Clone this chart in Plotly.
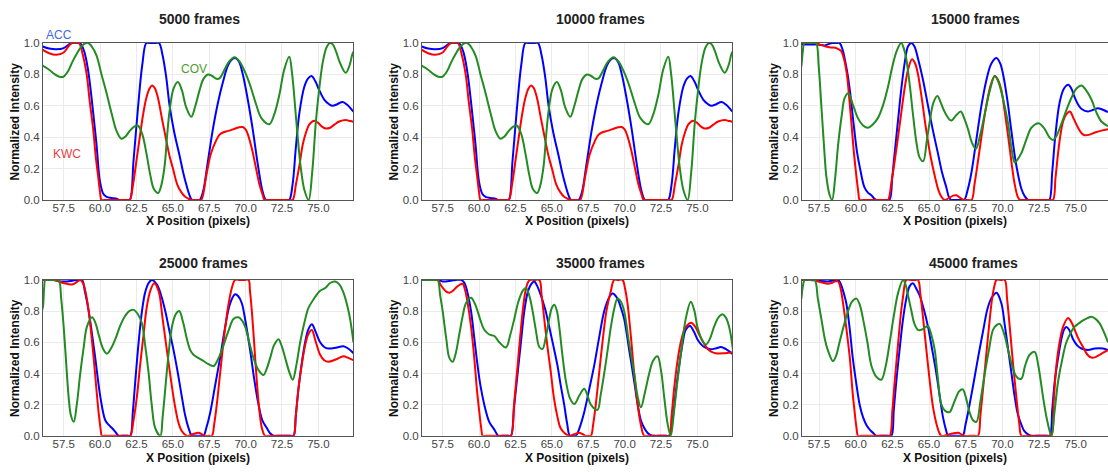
import plotly.graph_objects as go

# ---------------- data ----------------
FRAMES = [5000, 10000, 15000, 25000, 35000, 45000]
X_TICK_STEP = 2.5
Y_TICK_STEP = 0.2

ACC_5000 = [(56.0,0.98),(56.5,0.965),(57.0,0.96),(57.5,0.968),(57.93,0.995),(58.15,1.0),(58.4,1.0),(58.62,1.0),(58.9,0.95),(59.19,0.82),(59.5,0.58),(59.76,0.35),(59.99,0.12),(60.22,0.04),(60.45,0.02),(60.8,0.013),(61.13,0.008),(61.3,0.0),(61.5,0.0),(61.85,0.0),(62.04,0.0),(62.3,0.25),(62.6,0.58),(62.9,0.86),(63.18,1.0),(63.4,1.0),(63.8,1.0),(64.05,1.0),(64.3,0.92),(64.55,0.78),(64.78,0.6),(65.1,0.43),(65.47,0.28),(65.7,0.18),(65.92,0.1),(66.15,0.03),(66.31,0.0),(66.5,0.0),(66.65,0.0),(66.84,0.0),(67.07,0.05),(67.4,0.24),(67.75,0.45),(68.1,0.62),(68.44,0.75),(68.8,0.86),(69.12,0.9),(69.3,0.905),(69.55,0.88),(69.81,0.8),(70.15,0.64),(70.49,0.45),(70.85,0.22),(71.18,0.05),(71.4,0.0),(71.6,0.0),(72.8,0.0),(73.0,0.0),(73.23,0.1),(73.45,0.33),(73.69,0.55),(74.03,0.72),(74.3,0.775),(74.53,0.79),(74.8,0.755),(75.06,0.7),(75.4,0.64),(75.74,0.61),(75.97,0.6),(76.3,0.61),(76.66,0.625),(77.0,0.605),(77.34,0.57),(77.45,0.56)]
KWC_5000 = [(56.0,0.96),(56.5,0.935),(57.0,0.925),(57.5,0.94),(57.8,0.975),(58.05,1.0),(58.3,1.0),(58.55,1.0),(58.8,0.93),(59.08,0.8),(59.3,0.62),(59.53,0.45),(59.7,0.28),(59.87,0.15),(60.0,0.05),(60.1,0.0),(60.3,0.0),(61.8,0.0),(62.04,0.0),(62.27,0.1),(62.5,0.25),(62.73,0.4),(62.95,0.54),(63.18,0.65),(63.4,0.71),(63.57,0.73),(63.75,0.715),(63.98,0.65),(64.25,0.52),(64.55,0.38),(64.8,0.27),(65.01,0.2),(65.3,0.1),(65.58,0.05),(65.85,0.02),(66.15,0.005),(66.3,0.0),(66.5,0.0),(66.75,0.0),(66.95,0.0),(67.29,0.15),(67.6,0.29),(67.98,0.38),(68.2,0.415),(68.44,0.43),(68.8,0.44),(69.12,0.45),(69.5,0.462),(69.81,0.465),(70.0,0.45),(70.15,0.42),(70.45,0.32),(70.72,0.2),(70.95,0.1),(71.18,0.03),(71.3,0.0),(71.5,0.0),(73.0,0.0),(73.23,0.0),(73.46,0.1),(73.7,0.22),(73.92,0.35),(74.15,0.43),(74.37,0.48),(74.71,0.505),(75.0,0.49),(75.25,0.467),(75.51,0.455),(75.8,0.46),(76.1,0.48),(76.43,0.5),(76.88,0.51),(77.1,0.505),(77.34,0.5),(77.45,0.497)]
COV_5000 = [(56.0,0.86),(56.08,0.855),(56.5,0.83),(56.9,0.8),(57.2,0.785),(57.48,0.785),(57.8,0.82),(58.1,0.88),(58.39,0.93),(58.7,0.975),(58.95,0.997),(59.19,1.0),(59.45,0.975),(59.76,0.92),(60.1,0.8),(60.45,0.68),(60.8,0.55),(61.13,0.44),(61.47,0.39),(61.75,0.405),(62.04,0.44),(62.35,0.468),(62.61,0.473),(62.9,0.42),(63.18,0.3),(63.45,0.16),(63.7,0.07),(64.0,0.045),(64.2,0.09),(64.44,0.22),(64.6,0.4),(64.78,0.57),(65.05,0.71),(65.35,0.752),(65.62,0.7),(65.92,0.59),(66.27,0.53),(66.55,0.6),(66.84,0.7),(67.1,0.77),(67.41,0.8),(67.7,0.79),(68.0,0.772),(68.21,0.775),(68.5,0.82),(68.85,0.88),(69.24,0.91),(69.6,0.88),(70.03,0.8),(70.35,0.72),(70.72,0.61),(71.1,0.52),(71.63,0.483),(71.95,0.54),(72.32,0.67),(72.65,0.83),(73.0,0.913),(73.2,0.8),(73.46,0.53),(73.65,0.33),(73.8,0.2),(74.05,0.06),(74.33,0.0),(74.58,0.18),(74.83,0.5),(75.05,0.7),(75.29,0.87),(75.55,0.97),(75.79,1.0),(76.0,0.99),(76.2,0.95),(76.5,0.87),(76.88,0.81),(77.15,0.86),(77.34,0.93),(77.45,0.95)]

ACC_10000 = [(56.0,0.98),(56.5,0.965),(57.0,0.96),(57.5,0.968),(57.93,0.995),(58.15,1.0),(58.4,1.0),(58.62,1.0),(58.9,0.95),(59.19,0.82),(59.5,0.58),(59.76,0.35),(59.99,0.12),(60.22,0.04),(60.45,0.02),(60.8,0.013),(61.13,0.008),(61.3,0.0),(61.5,0.0),(61.85,0.0),(62.04,0.0),(62.3,0.25),(62.6,0.58),(62.9,0.86),(63.18,1.0),(63.4,1.0),(63.8,1.0),(64.05,1.0),(64.3,0.92),(64.55,0.78),(64.78,0.6),(65.1,0.43),(65.47,0.28),(65.7,0.18),(65.92,0.1),(66.15,0.03),(66.31,0.0),(66.5,0.0),(66.65,0.0),(66.84,0.0),(67.07,0.05),(67.4,0.24),(67.75,0.45),(68.1,0.62),(68.44,0.75),(68.8,0.86),(69.12,0.9),(69.3,0.905),(69.55,0.88),(69.81,0.8),(70.15,0.64),(70.49,0.45),(70.85,0.22),(71.18,0.05),(71.4,0.0),(71.6,0.0),(72.8,0.0),(73.0,0.0),(73.23,0.1),(73.45,0.33),(73.69,0.55),(74.03,0.72),(74.3,0.775),(74.53,0.79),(74.8,0.755),(75.06,0.7),(75.4,0.64),(75.74,0.61),(75.97,0.6),(76.3,0.61),(76.66,0.625),(77.0,0.605),(77.34,0.57),(77.45,0.56)]
KWC_10000 = [(56.0,0.96),(56.5,0.935),(57.0,0.925),(57.5,0.94),(57.8,0.975),(58.05,1.0),(58.3,1.0),(58.55,1.0),(58.8,0.93),(59.08,0.8),(59.3,0.62),(59.53,0.45),(59.7,0.28),(59.87,0.15),(60.0,0.05),(60.1,0.0),(60.3,0.0),(61.8,0.0),(62.04,0.0),(62.27,0.1),(62.5,0.25),(62.73,0.4),(62.95,0.54),(63.18,0.65),(63.4,0.71),(63.57,0.73),(63.75,0.715),(63.98,0.65),(64.25,0.52),(64.55,0.38),(64.8,0.27),(65.01,0.2),(65.3,0.1),(65.58,0.05),(65.85,0.02),(66.15,0.005),(66.3,0.0),(66.5,0.0),(66.75,0.0),(66.95,0.0),(67.29,0.15),(67.6,0.29),(67.98,0.38),(68.2,0.415),(68.44,0.43),(68.8,0.44),(69.12,0.45),(69.5,0.462),(69.81,0.465),(70.0,0.45),(70.15,0.42),(70.45,0.32),(70.72,0.2),(70.95,0.1),(71.18,0.03),(71.3,0.0),(71.5,0.0),(73.0,0.0),(73.23,0.0),(73.46,0.1),(73.7,0.22),(73.92,0.35),(74.15,0.43),(74.37,0.48),(74.71,0.505),(75.0,0.49),(75.25,0.467),(75.51,0.455),(75.8,0.46),(76.1,0.48),(76.43,0.5),(76.88,0.51),(77.1,0.505),(77.34,0.5),(77.45,0.497)]
COV_10000 = [(56.0,0.86),(56.08,0.855),(56.5,0.83),(56.9,0.8),(57.2,0.785),(57.48,0.785),(57.8,0.82),(58.1,0.88),(58.39,0.93),(58.7,0.975),(58.95,0.997),(59.19,1.0),(59.45,0.975),(59.76,0.92),(60.1,0.8),(60.45,0.68),(60.8,0.55),(61.13,0.44),(61.47,0.39),(61.75,0.405),(62.04,0.44),(62.35,0.468),(62.61,0.473),(62.9,0.42),(63.18,0.3),(63.45,0.16),(63.7,0.07),(64.0,0.045),(64.2,0.09),(64.44,0.22),(64.6,0.4),(64.78,0.57),(65.05,0.71),(65.35,0.752),(65.62,0.7),(65.92,0.59),(66.27,0.53),(66.55,0.6),(66.84,0.7),(67.1,0.77),(67.41,0.8),(67.7,0.79),(68.0,0.772),(68.21,0.775),(68.5,0.82),(68.85,0.88),(69.24,0.91),(69.6,0.88),(70.03,0.8),(70.35,0.72),(70.72,0.61),(71.1,0.52),(71.63,0.483),(71.95,0.54),(72.32,0.67),(72.65,0.83),(73.0,0.913),(73.2,0.8),(73.46,0.53),(73.65,0.33),(73.8,0.2),(74.05,0.06),(74.33,0.0),(74.58,0.18),(74.83,0.5),(75.05,0.7),(75.29,0.87),(75.55,0.97),(75.79,1.0),(76.0,0.99),(76.2,0.95),(76.5,0.87),(76.88,0.81),(77.15,0.86),(77.34,0.93),(77.45,0.95)]

ACC_15000 = [(56.3,0.99),(56.8,0.99),(57.4,0.99),(57.9,0.985),(58.2,0.995),(58.4,1.0),(58.65,1.0),(58.9,1.0),(59.1,0.96),(59.25,0.9),(59.45,0.8),(59.6,0.7),(59.9,0.45),(60.1,0.3),(60.3,0.2),(60.6,0.08),(60.85,0.045),(61.07,0.03),(61.25,0.01),(61.4,0.0),(61.6,0.0),(62.1,0.0),(62.3,0.0),(62.5,0.15),(62.66,0.3),(62.9,0.52),(63.1,0.7),(63.35,0.88),(63.57,0.98),(63.8,1.0),(64.0,0.98),(64.25,0.9),(64.6,0.76),(64.93,0.6),(65.25,0.45),(65.6,0.3),(65.9,0.17),(66.18,0.08),(66.35,0.02),(66.5,0.0),(66.7,0.0),(67.2,0.0),(67.4,0.0),(67.65,0.07),(67.9,0.18),(68.25,0.4),(68.57,0.6),(68.9,0.76),(69.25,0.87),(69.6,0.905),(69.85,0.87),(70.05,0.8),(70.35,0.63),(70.6,0.45),(70.95,0.22),(71.3,0.07),(71.55,0.02),(71.75,0.0),(72.0,0.0),(73.0,0.0),(73.2,0.0),(73.4,0.18),(73.6,0.4),(73.9,0.62),(74.2,0.71),(74.5,0.734),(74.7,0.71),(74.9,0.66),(75.15,0.61),(75.4,0.58),(75.84,0.564),(76.2,0.575),(76.5,0.585),(76.85,0.575),(77.2,0.56)]
KWC_15000 = [(56.3,1.0),(56.8,1.0),(57.2,1.0),(57.55,0.99),(57.9,0.98),(58.3,0.972),(58.6,0.97),(58.85,0.96),(59.0,0.95),(59.2,0.9),(59.4,0.8),(59.55,0.66),(59.7,0.5),(59.88,0.3),(60.05,0.15),(60.18,0.05),(60.27,0.0),(60.5,0.0),(62.0,0.0),(62.2,0.0),(62.45,0.12),(62.66,0.25),(62.9,0.41),(63.1,0.55),(63.35,0.72),(63.57,0.83),(63.84,0.896),(64.05,0.87),(64.25,0.8),(64.5,0.65),(64.8,0.45),(65.1,0.28),(65.4,0.15),(65.65,0.06),(65.85,0.02),(66.07,0.0),(66.4,0.015),(66.65,0.028),(66.86,0.03),(67.1,0.015),(67.4,0.0),(67.65,0.0),(67.9,0.0),(68.1,0.1),(68.34,0.25),(68.6,0.42),(68.9,0.6),(69.2,0.73),(69.48,0.79),(69.7,0.765),(69.93,0.7),(70.15,0.57),(70.4,0.4),(70.62,0.24),(70.84,0.1),(71.05,0.02),(71.2,0.0),(71.4,0.0),(73.2,0.0),(73.45,0.0),(73.62,0.14),(73.8,0.3),(73.95,0.41),(74.14,0.5),(74.35,0.545),(74.6,0.564),(74.85,0.52),(75.16,0.46),(75.4,0.425),(75.6,0.413),(75.9,0.415),(76.3,0.43),(76.75,0.442),(77.2,0.45)]
COV_15000 = [(56.3,0.85),(56.4,0.95),(56.5,1.0),(56.8,1.0),(57.1,1.0),(57.3,1.0),(57.48,0.85),(57.66,0.6),(57.85,0.33),(58.0,0.15),(58.2,0.04),(58.39,0.0),(58.6,0.14),(58.8,0.35),(59.05,0.54),(59.25,0.65),(59.5,0.68),(59.8,0.61),(60.16,0.52),(60.5,0.475),(60.84,0.46),(61.15,0.48),(61.5,0.52),(61.85,0.6),(62.2,0.72),(62.5,0.85),(62.8,0.95),(63.1,1.0),(63.3,0.96),(63.45,0.9),(63.7,0.72),(63.9,0.55),(64.15,0.36),(64.36,0.27),(64.6,0.247),(64.85,0.38),(65.05,0.5),(65.3,0.62),(65.57,0.662),(65.8,0.62),(66.07,0.56),(66.5,0.506),(66.85,0.54),(67.16,0.564),(67.4,0.52),(67.66,0.45),(67.95,0.36),(68.2,0.326),(68.5,0.42),(68.8,0.55),(69.15,0.7),(69.48,0.79),(69.7,0.76),(69.9,0.7),(70.15,0.6),(70.4,0.48),(70.62,0.33),(70.84,0.239),(71.05,0.26),(71.3,0.3),(71.65,0.39),(71.98,0.46),(72.5,0.488),(72.9,0.45),(73.2,0.4),(73.45,0.382),(73.7,0.41),(74.0,0.48),(74.35,0.57),(74.7,0.65),(75.05,0.71),(75.39,0.73),(75.7,0.7),(76.07,0.64),(76.4,0.56),(76.75,0.5),(77.2,0.47)]

ACC_25000 = [(56.0,1.0),(56.5,1.0),(56.81,1.0),(57.27,0.99),(57.73,0.99),(58.1,0.995),(58.42,1.0),(58.76,1.0),(58.95,0.93),(59.22,0.8),(59.45,0.65),(59.67,0.5),(60.02,0.25),(60.36,0.1),(60.6,0.07),(60.82,0.05),(61.05,0.025),(61.28,0.0),(61.5,0.0),(61.9,0.0),(62.08,0.0),(62.25,0.15),(62.42,0.35),(62.65,0.6),(62.88,0.8),(63.1,0.92),(63.34,0.98),(63.56,1.0),(63.91,0.97),(64.2,0.9),(64.48,0.8),(64.75,0.68),(65.05,0.55),(65.35,0.4),(65.62,0.25),(65.85,0.13),(66.08,0.05),(66.31,0.0),(66.5,0.0),(66.9,0.0),(67.11,0.0),(67.3,0.05),(67.57,0.15),(67.9,0.32),(68.25,0.5),(68.6,0.7),(68.94,0.85),(69.28,0.908),(69.5,0.895),(69.74,0.85),(70.0,0.73),(70.31,0.55),(70.6,0.36),(70.89,0.2),(71.15,0.1),(71.46,0.05),(71.7,0.015),(71.92,0.0),(72.2,0.0),(73.05,0.0),(73.29,0.0),(73.45,0.13),(73.63,0.3),(73.85,0.46),(74.09,0.6),(74.3,0.68),(74.55,0.715),(74.8,0.67),(75.12,0.6),(75.4,0.57),(75.69,0.56),(76.2,0.565),(76.72,0.575),(77.05,0.56),(77.41,0.53)]
KWC_25000 = [(56.0,1.0),(56.5,1.0),(56.81,1.0),(57.15,0.99),(57.5,0.98),(58.07,0.97),(58.4,0.985),(58.64,1.0),(58.87,0.97),(59.05,0.9),(59.22,0.8),(59.4,0.65),(59.56,0.5),(59.75,0.3),(59.9,0.15),(60.03,0.05),(60.13,0.0),(60.3,0.0),(61.9,0.0),(62.08,0.0),(62.3,0.1),(62.53,0.25),(62.75,0.45),(62.99,0.65),(63.2,0.82),(63.45,0.93),(63.72,0.979),(64.02,0.93),(64.3,0.75),(64.59,0.55),(64.9,0.34),(65.17,0.18),(65.4,0.08),(65.62,0.03),(65.97,0.0),(66.4,0.012),(66.77,0.02),(67.0,0.01),(67.23,0.0),(67.45,0.0),(67.68,0.0),(67.85,0.08),(68.02,0.2),(68.25,0.4),(68.48,0.6),(68.8,0.83),(69.06,0.95),(69.28,1.0),(69.6,1.0),(69.9,1.0),(70.2,1.0),(70.3,0.93),(70.43,0.8),(70.6,0.58),(70.77,0.35),(70.95,0.16),(71.12,0.05),(71.34,0.0),(71.6,0.0),(73.05,0.0),(73.29,0.0),(73.45,0.13),(73.63,0.3),(73.85,0.45),(74.09,0.58),(74.3,0.65),(74.55,0.679),(74.8,0.61),(75.12,0.52),(75.4,0.485),(75.69,0.475),(76.2,0.49),(76.72,0.51),(77.05,0.5),(77.41,0.485)]
COV_25000 = [(56.0,0.8),(56.08,0.83),(56.16,0.95),(56.24,1.0),(56.6,1.0),(56.9,1.0),(57.16,1.0),(57.33,0.88),(57.5,0.7),(57.67,0.47),(57.84,0.25),(58.0,0.13),(58.19,0.09),(58.4,0.2),(58.64,0.4),(58.88,0.57),(59.1,0.7),(59.45,0.76),(59.7,0.72),(59.9,0.65),(60.2,0.56),(60.47,0.527),(60.75,0.56),(61.05,0.62),(61.4,0.71),(61.73,0.77),(62.0,0.8),(62.31,0.808),(62.6,0.78),(62.88,0.72),(63.1,0.58),(63.34,0.4),(63.55,0.2),(63.79,0.05),(64.14,0.0),(64.3,0.12),(64.48,0.3),(64.7,0.52),(64.94,0.7),(65.2,0.78),(65.44,0.8),(65.7,0.73),(65.97,0.62),(66.2,0.55),(66.42,0.52),(66.75,0.5),(67.11,0.48),(67.45,0.46),(67.8,0.448),(68.15,0.5),(68.48,0.58),(68.85,0.68),(69.17,0.75),(69.51,0.76),(69.75,0.74),(69.97,0.7),(70.25,0.6),(70.54,0.5),(70.9,0.42),(71.23,0.39),(71.45,0.43),(71.69,0.5),(71.95,0.58),(72.26,0.62),(72.5,0.57),(72.72,0.5),(73.0,0.41),(73.24,0.36),(73.5,0.46),(73.75,0.6),(74.05,0.73),(74.32,0.82),(74.7,0.88),(75.12,0.93),(75.5,0.95),(75.81,0.98),(76.15,0.99),(76.45,0.97),(76.72,0.92),(77.0,0.83),(77.18,0.75),(77.41,0.6)]

ACC_35000 = [(56.0,1.0),(56.6,1.0),(57.16,1.0),(57.5,0.99),(58.07,0.995),(58.4,1.0),(58.76,1.0),(59.0,0.98),(59.2,0.92),(59.45,0.8),(59.67,0.63),(59.9,0.45),(60.1,0.32),(60.36,0.2),(60.7,0.09),(61.05,0.04),(61.2,0.015),(61.32,0.0),(61.6,0.0),(62.0,0.0),(62.19,0.0),(62.4,0.18),(62.65,0.4),(62.9,0.62),(63.11,0.8),(63.34,0.92),(63.56,0.97),(63.79,0.99),(64.0,0.96),(64.25,0.9),(64.55,0.81),(64.82,0.7),(65.1,0.58),(65.39,0.45),(65.6,0.33),(65.85,0.2),(66.05,0.08),(66.24,0.0),(66.45,0.0),(66.65,0.0),(66.9,0.05),(67.22,0.15),(67.55,0.29),(67.91,0.45),(68.25,0.63),(68.6,0.8),(68.9,0.88),(69.17,0.912),(69.51,0.88),(69.75,0.82),(69.97,0.75),(70.3,0.56),(70.66,0.35),(70.9,0.2),(71.12,0.1),(71.35,0.05),(71.57,0.02),(71.8,0.005),(72.03,0.0),(72.3,0.0),(72.85,0.0),(73.06,0.0),(73.29,0.1),(73.5,0.27),(73.75,0.45),(74.0,0.6),(74.2,0.68),(74.5,0.704),(74.75,0.67),(75.0,0.62),(75.23,0.59),(75.46,0.57),(75.92,0.555),(76.3,0.562),(76.61,0.569),(76.85,0.562),(77.07,0.55),(77.3,0.535),(77.45,0.52)]
KWC_35000 = [(56.0,1.0),(56.6,1.0),(57.16,1.0),(57.35,0.97),(57.5,0.95),(57.75,0.925),(57.96,0.917),(58.2,0.93),(58.53,0.96),(58.87,0.975),(59.05,0.93),(59.22,0.85),(59.45,0.7),(59.67,0.5),(59.85,0.3),(60.02,0.15),(60.15,0.05),(60.25,0.0),(60.5,0.0),(62.0,0.0),(62.19,0.0),(62.42,0.22),(62.65,0.45),(62.82,0.63),(63.0,0.8),(63.17,0.92),(63.34,0.98),(63.5,1.0),(63.8,1.0),(64.14,1.0),(64.3,0.9),(64.48,0.75),(64.7,0.57),(64.94,0.4),(65.15,0.24),(65.39,0.12),(65.6,0.05),(65.85,0.02),(66.2,0.0),(66.54,0.01),(66.88,0.02),(67.1,0.012),(67.34,0.0),(67.5,0.0),(67.68,0.0),(67.85,0.08),(68.02,0.2),(68.25,0.4),(68.48,0.6),(68.75,0.8),(69.06,0.93),(69.28,1.0),(69.55,1.0),(69.86,1.0),(70.02,0.95),(70.2,0.85),(70.45,0.62),(70.66,0.4),(70.9,0.2),(71.12,0.07),(71.35,0.0),(71.6,0.0),(72.85,0.0),(73.06,0.0),(73.23,0.13),(73.4,0.3),(73.62,0.47),(73.86,0.6),(74.15,0.69),(74.43,0.72),(74.59,0.725),(74.85,0.7),(75.12,0.65),(75.4,0.6),(75.69,0.56),(75.95,0.54),(76.26,0.53),(76.84,0.53),(77.15,0.533),(77.45,0.535)]
COV_35000 = [(56.0,1.0),(56.6,1.0),(57.0,1.0),(57.16,1.0),(57.33,0.9),(57.5,0.8),(57.75,0.62),(57.96,0.5),(58.19,0.475),(58.4,0.53),(58.64,0.65),(58.88,0.77),(59.1,0.85),(59.45,0.885),(59.7,0.85),(59.9,0.8),(60.1,0.74),(60.36,0.68),(60.7,0.65),(61.05,0.64),(61.39,0.6),(61.85,0.567),(62.15,0.65),(62.42,0.75),(62.7,0.86),(63.0,0.93),(63.22,0.948),(63.45,0.9),(63.68,0.8),(63.9,0.68),(64.14,0.57),(64.36,0.558),(64.6,0.64),(64.82,0.75),(65.0,0.82),(65.17,0.84),(65.35,0.8),(65.51,0.7),(65.75,0.5),(65.97,0.35),(66.25,0.24),(66.54,0.204),(66.9,0.26),(67.22,0.302),(67.45,0.26),(67.68,0.2),(68.14,0.167),(68.35,0.26),(68.6,0.4),(68.85,0.56),(69.06,0.7),(69.3,0.82),(69.51,0.88),(69.75,0.86),(69.97,0.8),(70.3,0.6),(70.66,0.4),(70.9,0.25),(71.12,0.183),(71.4,0.28),(71.69,0.4),(71.95,0.48),(72.26,0.51),(72.5,0.42),(72.72,0.25),(72.95,0.08),(73.17,0.0),(73.4,0.16),(73.63,0.35),(73.9,0.55),(74.2,0.75),(74.55,0.86),(74.8,0.8),(75.0,0.7),(75.3,0.62),(75.58,0.585),(75.85,0.62),(76.15,0.7),(76.45,0.76),(76.72,0.78),(76.95,0.76),(77.18,0.7),(77.45,0.55)]

ACC_45000 = [(56.3,1.0),(56.9,1.0),(57.43,0.995),(58.1,0.99),(58.5,0.997),(58.8,1.0),(59.0,0.97),(59.17,0.92),(59.36,0.85),(59.6,0.68),(59.8,0.5),(60.05,0.33),(60.27,0.2),(60.5,0.12),(60.73,0.07),(61.0,0.035),(61.18,0.02),(61.4,0.0),(61.7,0.0),(62.2,0.0),(62.43,0.0),(62.6,0.17),(62.77,0.35),(63.0,0.56),(63.23,0.75),(63.45,0.88),(63.68,0.96),(63.9,0.979),(64.1,0.95),(64.36,0.9),(64.65,0.81),(64.93,0.7),(65.2,0.56),(65.5,0.4),(65.75,0.24),(65.95,0.12),(66.15,0.04),(66.3,0.0),(66.6,0.0),(67.0,0.0),(67.3,0.0),(67.48,0.07),(67.66,0.15),(68.0,0.32),(68.34,0.5),(68.7,0.68),(69.0,0.82),(69.3,0.89),(69.6,0.917),(69.93,0.85),(70.15,0.72),(70.4,0.55),(70.62,0.4),(70.84,0.25),(71.05,0.14),(71.3,0.07),(71.5,0.03),(71.75,0.01),(72.0,0.0),(72.3,0.0),(73.0,0.0),(73.23,0.0),(73.4,0.17),(73.57,0.35),(73.8,0.5),(74.02,0.62),(74.2,0.68),(74.36,0.698),(74.55,0.68),(74.82,0.62),(75.1,0.58),(75.39,0.56),(75.84,0.55),(76.3,0.56),(76.86,0.56),(77.2,0.55)]
KWC_45000 = [(56.3,1.0),(56.8,1.0),(57.2,1.0),(57.45,0.99),(57.66,0.985),(58.1,0.975),(58.35,0.98),(58.57,0.99),(58.8,0.99),(58.98,0.94),(59.14,0.85),(59.35,0.7),(59.6,0.5),(59.77,0.3),(59.93,0.15),(60.06,0.05),(60.16,0.0),(60.4,0.0),(62.1,0.0),(62.32,0.0),(62.5,0.16),(62.66,0.35),(62.88,0.58),(63.1,0.8),(63.24,0.9),(63.34,0.97),(63.45,1.0),(63.8,1.0),(64.05,1.0),(64.25,1.0),(64.42,0.9),(64.6,0.75),(64.82,0.55),(65.05,0.35),(65.28,0.18),(65.5,0.08),(65.7,0.02),(65.84,0.0),(66.2,0.005),(66.6,0.015),(66.98,0.02),(67.2,0.01),(67.4,0.0),(67.8,0.0),(68.1,0.0),(68.34,0.0),(68.5,0.13),(68.68,0.3),(68.9,0.52),(69.14,0.75),(69.3,0.88),(69.48,0.97),(69.6,1.0),(69.9,1.0),(70.16,1.0),(70.32,0.88),(70.5,0.7),(70.72,0.47),(70.95,0.25),(71.15,0.08),(71.3,0.0),(71.6,0.0),(73.1,0.0),(73.34,0.0),(73.5,0.22),(73.68,0.45),(73.9,0.6),(74.14,0.7),(74.48,0.756),(74.7,0.73),(74.93,0.68),(75.2,0.62),(75.5,0.57),(75.8,0.52),(76.07,0.502),(76.35,0.505),(76.64,0.52),(76.9,0.535),(77.2,0.55)]
COV_45000 = [(56.3,0.88),(56.4,0.96),(56.52,1.0),(56.85,1.0),(57.2,1.0),(57.42,0.88),(57.66,0.75),(57.9,0.62),(58.1,0.55),(58.45,0.479),(58.65,0.51),(58.9,0.6),(59.2,0.71),(59.48,0.8),(59.75,0.86),(60.05,0.88),(60.28,0.84),(60.5,0.75),(60.8,0.6),(61.07,0.45),(61.4,0.38),(61.75,0.36),(62.05,0.45),(62.32,0.6),(62.6,0.77),(62.9,0.92),(63.23,1.0),(63.4,0.97),(63.57,0.9),(63.8,0.8),(64.0,0.72),(64.25,0.68),(64.48,0.68),(64.72,0.695),(64.93,0.704),(65.15,0.65),(65.39,0.55),(65.6,0.37),(65.84,0.2),(66.1,0.16),(66.4,0.152),(66.65,0.2),(66.86,0.25),(67.05,0.285),(67.3,0.298),(67.5,0.25),(67.77,0.15),(68.0,0.1),(68.23,0.09),(68.5,0.22),(68.8,0.4),(69.1,0.56),(69.36,0.68),(69.6,0.71),(69.82,0.718),(70.1,0.66),(70.39,0.55),(70.6,0.47),(70.84,0.4),(71.05,0.37),(71.3,0.367),(71.55,0.45),(71.86,0.52),(72.2,0.538),(72.45,0.45),(72.77,0.25),(73.05,0.1),(73.34,0.0),(73.55,0.15),(73.8,0.35),(74.1,0.5),(74.36,0.6),(74.65,0.66),(74.93,0.7),(75.2,0.72),(75.5,0.74),(75.8,0.755),(76.07,0.763),(76.35,0.75),(76.64,0.72),(76.9,0.67),(77.2,0.6)]

SERIES = {
    5000: {"ACC": ACC_5000, "KWC": KWC_5000, "COV": COV_5000},
    10000: {"ACC": ACC_10000, "KWC": KWC_10000, "COV": COV_10000},
    15000: {"ACC": ACC_15000, "KWC": KWC_15000, "COV": COV_15000},
    25000: {"ACC": ACC_25000, "KWC": KWC_25000, "COV": COV_25000},
    35000: {"ACC": ACC_35000, "KWC": KWC_35000, "COV": COV_35000},
    45000: {"ACC": ACC_45000, "KWC": KWC_45000, "COV": COV_45000},
}

# ---------------- styling / layout ----------------
LINE_COLORS = {"ACC": "#0000ff", "KWC": "#ff0000", "COV": "#228b22"}
LABEL_COLORS = {"ACC": "#4169e1", "KWC": "#e8403f", "COV": "#4d9a2e"}
DRAW_ORDER = ["ACC", "KWC", "COV"]
FONT = "Liberation Sans, Arial, sans-serif"

W, H = 1108, 475
COL_PX = [(43, 353), (422, 732), (802, 1108)]
ROW_PX = [(38, 199), (281, 441)]
X_RANGES = [(56.08, 77.38), (56.08, 77.38), (56.34, 77.2)]
TITLE_PX = [[(199, 13), (600, 13), (975, 13)], [(203, 264), (600, 264), (974, 264)]]
XTITLE_Y = [221, 464]


def fx(p):
    return p / W


def fy(p):
    return 1 - p / H


fig = go.Figure()
annotations = []

for i, frames in enumerate(FRAMES):
    r, c = divmod(i, 3)
    k = i + 1
    xs = "x" if k == 1 else f"x{k}"
    ys = "y" if k == 1 else f"y{k}"
    for name in DRAW_ORDER:
        pts = SERIES[frames][name]
        fig.add_trace(go.Scatter(
            x=[p[0] for p in pts], y=[p[1] for p in pts],
            mode="lines", name=name, showlegend=False,
            line=dict(color=LINE_COLORS[name], width=2, shape="spline", smoothing=1),
            xaxis=xs, yaxis=ys,
        ))
    c0, c1 = COL_PX[c]
    r0, r1 = ROW_PX[r]
    axis_common = dict(
        showgrid=True, gridcolor="#ebebeb", gridwidth=1,
        showline=True, linecolor="#555555", linewidth=1,
        zeroline=False, ticks="",
        tickfont=dict(family=FONT, size=11.5, color="#444444"),
        tickformat=".1f",
    )
    fig.layout[f"xaxis{'' if k == 1 else k}"] = dict(
        domain=[fx(c0), fx(c1)], range=list(X_RANGES[c]), anchor=ys,
        tick0=0, dtick=X_TICK_STEP, mirror=True, ticklabelstandoff=-3, **axis_common)
    fig.layout[f"yaxis{'' if k == 1 else k}"] = dict(
        domain=[fy(r1), fy(r0)], range=[0, 1], anchor=xs,
        tick0=0, dtick=Y_TICK_STEP, mirror=(c < 2), **axis_common)

    tx, ty = TITLE_PX[r][c]
    annotations.append(dict(
        text=f"<b>{frames} frames</b>", x=fx(tx), y=fy(ty), xref="paper", yref="paper",
        showarrow=False, xanchor="center", yanchor="middle",
        font=dict(family=FONT, size=14, color="#222222")))
    annotations.append(dict(
        text="<b>X Position (pixels)</b>", x=fx((c0 + min(c1, c0 + 310)) / 2), y=fy(XTITLE_Y[r]),
        xref="paper", yref="paper", showarrow=False, xanchor="center", yanchor="middle",
        font=dict(family=FONT, size=12, color="#111111")))
    annotations.append(dict(
        text="<b>Normalized Intensity</b>", x=fx(c0 - 28), y=fy((r0 + r1) / 2),
        xref="paper", yref="paper", showarrow=False, xanchor="center", yanchor="middle",
        textangle=-90, font=dict(family=FONT, size=12, color="#111111")))

# series labels inside the first panel
for name, (px_, py_) in {"ACC": (59, 30), "COV": (194, 65), "KWC": (67, 152)}.items():
    annotations.append(dict(
        text=name, x=fx(px_), y=fy(py_), xref="paper", yref="paper",
        showarrow=False, xanchor="center", yanchor="middle",
        font=dict(family=FONT, size=12, color=LABEL_COLORS[name])))

fig.update_layout(
    width=W, height=H,
    margin=dict(l=0, r=0, t=0, b=0),
    paper_bgcolor="white", plot_bgcolor="white",
    annotations=annotations,
    showlegend=False,
)

fig.write_html("out.html")
